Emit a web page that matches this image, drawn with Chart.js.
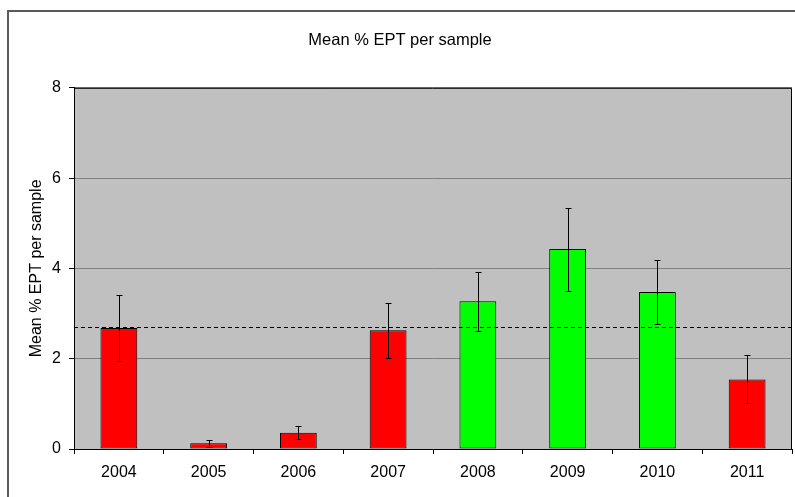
<!DOCTYPE html>
<html>
<head>
<meta charset="utf-8">
<script src="https://cdn.jsdelivr.net/npm/chart.js@4"></script>
<style>
  html, body { margin: 0; padding: 0; background: #fff; }
  #wrap { position: relative; width: 795px; height: 497px; overflow: hidden; }
  #frame { position: absolute; left: 7px; top: 10px; width: 900px; height: 600px;
           border-left: 2px solid #5a5a5a; border-top: 2px solid #5a5a5a; }
  canvas { position: absolute; left: 0; top: 0; }
</style>
</head>
<body>
<div id="wrap">
  <div id="frame"></div>
  <canvas id="eptChart" width="795" height="497"></canvas>
</div>
<script>
const years = ['2004', '2005', '2006', '2007', '2008', '2009', '2010', '2011'];
const meanEpt = [2.68, 0.13, 0.36, 2.63, 3.27, 4.43, 3.48, 1.54];
const errUpper = [3.41, 0.20, 0.50, 3.24, 3.93, 5.33, 4.19, 2.08];
const errLower = [1.96, 0.05, 0.22, 2.02, 2.61, 3.51, 2.77, 1.02];
const overallMean = 2.71;
const yMin = 0, yMax = 8, yStep = 2;

const fontFamily = '"Liberation Sans", Arial, sans-serif';

// plot background, border, dashed mean line and error bars
const extras = {
    id: 'extras',
    beforeDraw(chart) {
        const a = chart.chartArea, ctx = chart.ctx;
        ctx.save();
        ctx.fillStyle = '#c0c0c0';
        ctx.fillRect(a.left, a.top, a.right - a.left, a.bottom - a.top);
        ctx.restore();
    },
    afterDatasetsDraw(chart) {
        const a = chart.chartArea, ctx = chart.ctx;
        const y = chart.scales.y, x = chart.scales.x;
        ctx.save();
        // mean line
        ctx.strokeStyle = '#000';
        ctx.lineWidth = 1;
        ctx.setLineDash([4, 3]);
        const my = Math.round(y.getPixelForValue(overallMean)) + 0.5;
        ctx.beginPath();
        ctx.moveTo(a.left, my);
        ctx.lineTo(a.right, my);
        ctx.stroke();
        ctx.setLineDash([]);
        // error bars
        years.forEach((yr, i) => {
            const cx = Math.round(x.getPixelForValue(i)) + 0.5;
            const yt = Math.round(y.getPixelForValue(errUpper[i])) + 0.5;
            const yb = Math.round(y.getPixelForValue(errLower[i])) + 0.5;
            ctx.beginPath();
            ctx.moveTo(cx, yt); ctx.lineTo(cx, yb);
            ctx.moveTo(cx - 3, yt); ctx.lineTo(cx + 3, yt);
            ctx.moveTo(cx - 3, yb); ctx.lineTo(cx + 3, yb);
            ctx.stroke();
        });
        // plot border top/right
        ctx.beginPath();
        ctx.moveTo(a.left, a.top + 0.5);
        ctx.lineTo(a.right - 0.5, a.top + 0.5);
        ctx.lineTo(a.right - 0.5, a.bottom);
        ctx.stroke();
        ctx.restore();
    }
};

new Chart(document.getElementById('eptChart').getContext('2d'), {
    type: 'bar',
    data: {
        labels: years,
        datasets: [{
            data: meanEpt,
            backgroundColor: meanEpt.map(v => v > overallMean ? '#00ff00' : '#ff0000'),
            borderColor: '#000',
            borderWidth: 1,
            borderSkipped: false,
            barPercentage: 0.41,
            categoryPercentage: 1
        }]
    },
    options: {
        responsive: false,
        animation: false,
        layout: { padding: { left: 8, right: 3, top: 0, bottom: 0 } },
        plugins: {
            legend: { display: false },
            tooltip: { enabled: false },
            title: {
                display: true,
                text: 'Mean % EPT per sample',
                color: '#000',
                font: { family: fontFamily, size: 16.5, weight: 'normal' },
                padding: { top: 31, bottom: 37 }
            }
        },
        scales: {
            x: {
                grid: { drawOnChartArea: false, tickLength: 5, tickColor: '#000', offset: true },
                border: { color: '#000', width: 1 },
                ticks: { color: '#000', font: { family: fontFamily, size: 16 }, padding: 9, maxRotation: 0 },
                afterFit(s) { s.height = 48; }
            },
            y: {
                min: yMin,
                max: yMax,
                ticks: { stepSize: yStep, color: '#000', font: { family: fontFamily, size: 16 }, padding: 8 },
                grid: { color: '#808080', tickColor: '#000', tickLength: 5 },
                border: { color: '#000', width: 1 },
                title: {
                    display: true,
                    text: 'Mean % EPT per sample',
                    color: '#000',
                    font: { family: fontFamily, size: 16 },
                    padding: { top: 19, bottom: 0 }
                },
                afterFit(s) { s.width = 66; }
            }
        }
    },
    plugins: [extras]
});
</script>
</body>
</html>
